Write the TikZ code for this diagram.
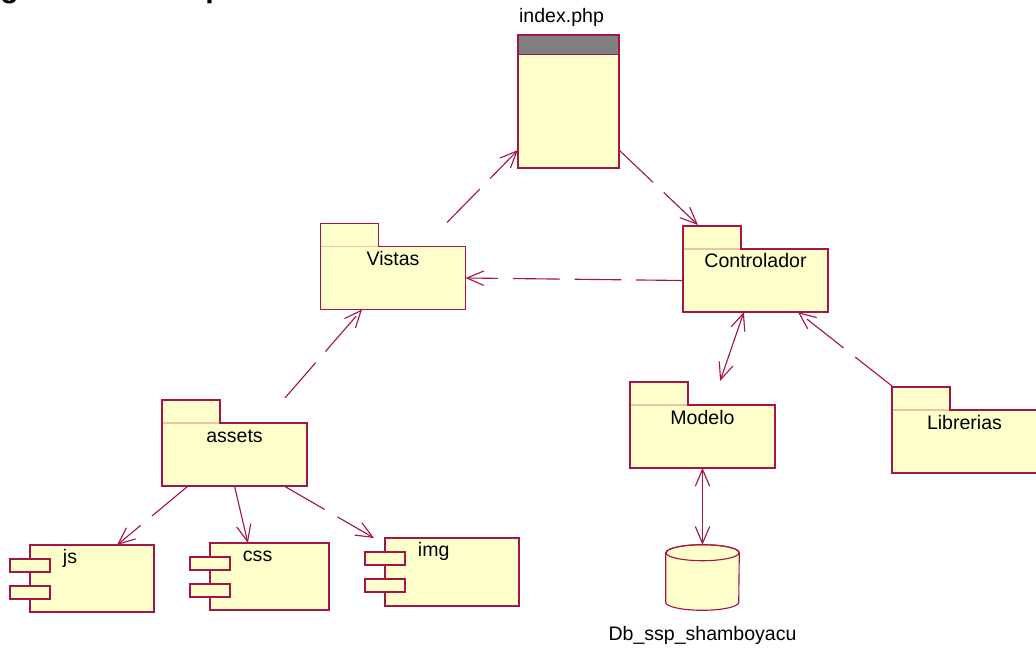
\documentclass[tikz,border=0pt]{standalone}
\usepackage{fontspec}
\setmainfont{Liberation Sans}
\usepackage{tikz}
\usetikzlibrary{arrows.meta}
\definecolor{umlline}{RGB}{165,20,70}
\definecolor{umlfill}{RGB}{255,255,204}
\definecolor{hdrgray}{RGB}{128,128,128}

\begin{document}
\begin{tikzpicture}[x=0.025cm,y=-0.025cm,
    >={Straight Barb[length=0.42cm,width=0.36cm]},
    every node/.style={font=\fontsize{13.9}{16}\selectfont},
    pkgbody/.style={draw=umlline,fill=umlfill,line width=0.8pt,inner sep=0pt,outer sep=0pt,
      minimum width=3.625cm,minimum height=1.575cm},
    pkgtab/.style={draw=umlline,fill=umlfill,line width=0.8pt},
    filebox/.style={draw=umlline,fill=umlfill,line width=0.8pt,inner sep=0pt,outer sep=0pt,
      minimum width=2.525cm,minimum height=3.325cm},
    compbody/.style={draw=umlline,fill=umlfill,line width=0.8pt,inner sep=0pt,outer sep=0pt,
      minimum height=1.675cm},
    comppart/.style={draw=umlline,fill=umlfill,line width=0.8pt},
    dep/.style={->,draw=umlline,line width=0.8pt,dash pattern=on 1.17cm off 0.37cm},
    link/.style={->,draw=umlline,line width=0.8pt},
    assoc/.style={<->,draw=umlline,line width=0.8pt}]
  \useasboundingbox (0,0) rectangle (1036,649);

  % cut title
  \begin{scope}
    \clip (0,0) rectangle (1036,649);
    \node[anchor=base west,inner sep=0pt,font=\bfseries\fontsize{21.5}{24}\selectfont] (title)
      at (-47,-2.3) {Diagrama de componentes};
  \end{scope}

  % index.php
  \node[filebox] (index) at (568.5,101.5) {};
  \draw[umlline,line width=0.8pt,fill=hdrgray] (index.north west) rectangle ([yshift=-0.49cm]index.north east);
  \node[anchor=base] (index-lbl) at ([xshift=-0.175cm,yshift=0.3cm]index.north) {index.php};

  % packages
  \node[pkgbody] (vistas) at (393,278) {};
  \node[pkgbody] (ctrl) at (755.5,280.5) {};
  \node[pkgbody] (modelo) at (702.5,436.5) {};
  \node[pkgbody] (libs) at (964.5,441.5) {};
  \node[pkgbody] (assets) at (234.5,454.5) {};
  \foreach \p/\t in {vistas/Vistas,ctrl/Controlador,modelo/Modelo,libs/Librerias,assets/assets}{
    \filldraw[pkgtab] (\p.north west) -- ++(0,0.575cm) -- ++(1.45cm,0) -- ++(0,-0.575cm);
    \draw[umlline!25!umlfill,line width=0.8pt] ([xshift=0.4pt]\p.north west) -- ++(1.45cm-0.8pt,0);
    \node[anchor=base] (\p-lbl) at ([yshift=-0.475cm]\p.north) {\t};
  }

  % components
  \node[compbody,minimum width=3.1cm] (js) at (92,578.5) {};
  \node[compbody,minimum width=2.975cm] (css) at (269.5,576.5) {};
  \node[compbody,minimum width=3.35cm,minimum height=1.7cm] (img) at (452,572) {};
  \foreach \c in {js,css,img}{
    \node[anchor=base west] (\c-lbl) at ([xshift=0.7cm,yshift=-0.45cm]\c.north west) {\c};
    \draw[comppart] ([xshift=-0.5cm,yshift=-0.35cm]\c.north west) rectangle ++(1cm,-0.325cm);
    \draw[comppart] ([xshift=-0.5cm,yshift=-1.025cm]\c.north west) rectangle ++(1cm,-0.325cm);
  }

  % database
  \node[inner sep=0pt,minimum width=1.825cm,minimum height=1.625cm] (db) at (702.5,577.5) {};
  \draw[umlline,fill=umlfill,line width=0.8pt] ([yshift=-0.2cm]db.north west) -- ([yshift=0.2cm]db.south west)
    arc[start angle=180,end angle=360,x radius=0.9125cm,y radius=0.2cm] -- ([yshift=-0.2cm]db.north east)
    arc[start angle=0,end angle=180,x radius=0.9125cm,y radius=0.2cm] -- cycle;
  \draw[umlline,line width=0.8pt] ([yshift=-0.2cm]db.north) ellipse[x radius=0.9125cm,y radius=0.2cm];
  \node[anchor=base] (db-lbl) at ([yshift=-0.75cm]db.south) {Db\_ssp\_shamboyacu};

  % connectors
  \draw[dep] ([xshift=1.35cm,yshift=0.6cm]vistas.north) -- ([yshift=0.45cm]index.south west);
  \draw[dep] ([yshift=0.45cm]index.south east) -- ([xshift=0.375cm,yshift=0.6cm]ctrl.north west);
  \draw[dep] (ctrl.west) -- (vistas.east);
  \draw[dep] ([xshift=1.26cm,yshift=0.625cm]assets.north) -- ([xshift=-0.775cm]vistas.south);
  \draw[dep] ([yshift=0.6cm]libs.north west) -- ([xshift=1.06cm]ctrl.south);
  \draw[assoc] ([xshift=-0.29cm]ctrl.south) -- ([xshift=0.44cm,yshift=0.6cm]modelo.north);
  \draw[assoc] (modelo.south) -- (db.north);
  \draw[dep] ([xshift=-1.16cm]assets.south) -- ([xshift=0.625cm]js.north);
  \draw[link] (assets.south) -- ([xshift=-0.54cm]css.north);
  \draw[dep] ([xshift=1.24cm]assets.south) -- ([xshift=-0.275cm]img.north west);
\end{tikzpicture}
\end{document}
